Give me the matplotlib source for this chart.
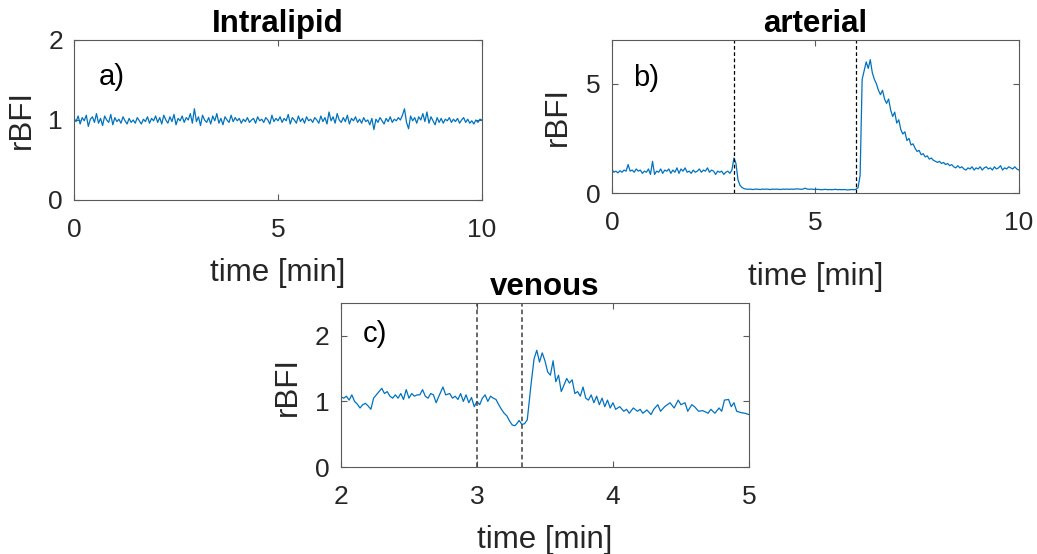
#!/usr/bin/env python3
"""Relative blood flow index (rBFI) traces: Intralipid, arterial and venous runs."""

import matplotlib

matplotlib.use("Agg")
import matplotlib.pyplot as plt
import numpy as np

# --- data ------------------------------------------------------------------

# a) Intralipid phantom, sampled every 0.05 min from 0 to 10 min
intralipid_rbfi = [
    1.02, 0.98, 1.05, 0.95, 1.03, 0.99, 1.06, 0.92, 1.01, 1.04, 0.97, 1.08, 0.96, 1.02, 0.93, 1.05, 1.00, 0.97, 1.07, 0.94,
    1.03, 0.98, 1.01, 0.96, 1.04, 0.99, 0.95, 1.02, 0.97, 1.00, 0.96, 1.03, 0.99, 0.95, 1.01, 0.98, 1.04, 0.96, 1.02, 0.99,
    1.05, 0.97, 1.03, 0.95, 1.06, 1.00, 0.96, 1.04, 0.98, 1.07, 0.94, 1.02, 0.99, 1.05, 0.97, 1.03, 1.00, 1.08, 0.96, 1.14,
    0.98, 1.04, 0.93, 1.06, 1.00, 0.97, 1.03, 0.95, 1.05, 0.99, 1.08, 0.96, 1.02, 0.94, 1.04, 1.00, 0.97, 1.06, 0.98, 1.03,
    0.99, 1.02, 0.96, 1.01, 0.98, 1.03, 0.97, 1.00, 1.02, 0.96, 1.04, 0.99, 1.01, 0.97, 1.03, 1.00, 0.95, 1.06, 0.98, 1.02,
    0.99, 1.04, 0.97, 1.02, 0.99, 1.07, 0.95, 1.03, 1.00, 0.96, 1.05, 0.98, 1.02, 0.96, 1.04, 0.99, 1.01, 0.97, 1.03, 1.00,
    0.96, 1.05, 0.98, 1.03, 0.95, 1.10, 0.99, 1.04, 0.96, 1.08, 1.00, 0.97, 1.03, 0.98, 1.06, 0.95, 1.02, 0.99, 1.04, 0.97,
    1.01, 0.96, 1.03, 0.98, 1.00, 0.94, 1.02, 0.88, 1.01, 0.97, 1.03, 0.99, 0.95, 1.02, 0.98, 1.04, 0.97, 1.01, 0.99, 1.03,
    1.00, 1.06, 1.14, 0.97, 0.89, 1.05, 0.99, 1.03, 0.96, 1.04, 1.00, 1.08, 0.98, 1.10, 0.96, 1.04, 0.99, 0.94, 1.03, 0.97,
    1.02, 0.96, 1.01, 0.99, 1.03, 0.97, 1.01, 0.98, 1.02, 0.96, 1.00, 1.03, 0.97, 1.01, 0.96, 0.99, 0.95, 1.00, 0.97, 1.01,
    1.00,
]

# b) arterial occlusion, sampled every 0.05 min from 0 to 10 min
arterial_rbfi = [
    1.10, 0.95, 1.00, 0.92, 1.02, 0.95, 1.05, 1.00, 1.30, 1.00, 1.05, 0.95, 1.10, 1.00, 1.05, 0.90, 1.00, 0.95, 1.10, 0.85,
    1.45, 0.85, 1.00, 0.95, 1.10, 0.90, 1.05, 1.00, 1.10, 0.90, 1.05, 0.95, 1.15, 0.90, 1.10, 1.00, 1.15, 0.95, 1.00, 0.90,
    1.05, 0.95, 1.00, 1.10, 0.95, 1.05, 1.00, 1.15, 0.95, 1.05, 1.00, 0.85, 1.00, 0.95, 1.00, 0.85, 0.95, 1.00, 0.90, 1.05,
    1.60, 1.35, 0.60, 0.35, 0.25, 0.20, 0.18, 0.17, 0.18, 0.16, 0.17, 0.18, 0.17, 0.16, 0.18, 0.17, 0.18, 0.17, 0.16, 0.18,
    0.17, 0.18, 0.17, 0.16, 0.18, 0.17, 0.18, 0.17, 0.18, 0.17, 0.18, 0.19, 0.18, 0.17, 0.18, 0.22, 0.18, 0.17, 0.18, 0.17,
    0.16, 0.17, 0.16, 0.15, 0.16, 0.17, 0.15, 0.16, 0.15, 0.16, 0.17, 0.15, 0.16, 0.15, 0.16, 0.15, 0.14, 0.15, 0.16, 0.15,
    0.17, 0.25, 0.80, 5.20, 5.60, 6.00, 5.70, 6.10, 5.50, 5.20, 5.00, 4.70, 4.50, 4.70, 4.30, 4.10, 4.30, 3.80, 3.50, 3.70,
    3.20, 3.35, 2.90, 2.70, 2.80, 2.40, 2.50, 2.20, 2.25, 2.05, 1.90, 1.95, 1.75, 1.80, 1.65, 1.70, 1.55, 1.60, 1.50, 1.45,
    1.40, 1.45, 1.35, 1.40, 1.30, 1.35, 1.25, 1.30, 1.20, 1.15, 1.25, 1.15, 1.20, 1.10, 1.05, 1.15, 1.10, 1.20, 1.05, 1.15,
    1.10, 1.20, 1.05, 1.15, 1.20, 1.10, 1.15, 1.05, 1.20, 1.10, 1.15, 1.25, 1.05, 1.15, 1.10, 1.20, 1.15, 1.10, 1.20, 1.10,
    1.05,
]
arterial_events = [3.0, 6.0]

# c) venous occlusion, 2 to 5 min
venous_t = [
    2.00, 2.02, 2.04, 2.06, 2.08, 2.10, 2.12, 2.14, 2.16, 2.18, 2.20, 2.22, 2.24, 2.26, 2.28, 2.30, 2.32, 2.34, 2.36, 2.38,
    2.40, 2.42, 2.44, 2.46, 2.48, 2.50, 2.52, 2.54, 2.56, 2.58, 2.60, 2.62, 2.64, 2.66, 2.68, 2.70, 2.72, 2.75, 2.77, 2.80,
    2.82, 2.84, 2.86, 2.88, 2.90, 2.92, 2.94, 2.96, 2.98, 3.00, 3.02, 3.04, 3.06, 3.08, 3.10, 3.12, 3.14, 3.16, 3.18, 3.20,
    3.22, 3.24, 3.26, 3.28, 3.30, 3.31, 3.33, 3.35, 3.37, 3.40, 3.42, 3.44, 3.46, 3.48, 3.50, 3.52, 3.54, 3.56, 3.58, 3.60,
    3.62, 3.64, 3.66, 3.68, 3.70, 3.72, 3.74, 3.76, 3.78, 3.80, 3.82, 3.84, 3.86, 3.88, 3.90, 3.92, 3.94, 3.96, 3.98, 4.00,
    4.02, 4.05, 4.08, 4.10, 4.12, 4.15, 4.18, 4.20, 4.22, 4.25, 4.28, 4.30, 4.33, 4.35, 4.38, 4.42, 4.45, 4.48, 4.50, 4.53,
    4.55, 4.58, 4.60, 4.63, 4.66, 4.70, 4.72, 4.75, 4.78, 4.80, 4.82, 4.85, 4.87, 4.89, 4.91, 4.94, 4.97, 5.00,
]
venous_rbfi = [
    1.07, 1.05, 1.08, 1.02, 1.10, 1.00, 0.96, 0.90, 0.95, 0.97, 0.93, 0.88, 1.05, 1.10, 1.15, 1.20, 1.12, 1.15, 1.08, 1.05,
    1.10, 1.05, 1.12, 1.03, 1.18, 1.05, 1.12, 1.08, 1.10, 1.10, 1.18, 1.08, 1.05, 1.12, 1.10, 0.98, 1.08, 1.22, 1.10, 1.12,
    1.05, 1.08, 1.03, 1.12, 1.00, 1.10, 0.98, 1.06, 0.92, 1.00, 0.95, 1.05, 1.10, 1.00, 1.08, 1.05, 1.03, 0.95, 0.88, 0.82,
    0.78, 0.70, 0.64, 0.63, 0.68, 0.71, 0.65, 0.66, 0.72, 1.30, 1.65, 1.78, 1.60, 1.74, 1.62, 1.45, 1.40, 1.62, 1.30, 1.40,
    1.15, 1.25, 1.35, 1.28, 1.33, 1.12, 1.15, 1.08, 1.22, 1.05, 1.02, 1.10, 0.98, 1.08, 0.95, 1.05, 0.92, 1.02, 0.90, 0.98,
    0.88, 0.92, 0.85, 0.88, 0.82, 0.90, 0.85, 0.88, 0.82, 0.87, 0.80, 0.88, 0.95, 0.85, 0.92, 0.98, 0.90, 1.02, 0.95, 0.98,
    0.85, 0.95, 0.92, 0.85, 0.86, 0.82, 0.88, 0.82, 0.90, 0.85, 1.02, 1.03, 0.92, 0.98, 0.85, 0.83, 0.82, 0.80,
]
venous_events = [3.0, 3.333]

LINE = "#0072BD"
AXIS = "#5a5a5a"
TEXT = "#262626"
LABEL_SIZE = 22.5


def configure_style() -> None:
    plt.rcParams.update(
        {
            "font.family": ["Liberation Sans", "DejaVu Sans"],
            "font.size": 19,
            "axes.linewidth": 0.8,
            "axes.edgecolor": AXIS,
            "xtick.direction": "in",
            "ytick.direction": "in",
            "xtick.top": True,
            "ytick.right": True,
            "xtick.color": AXIS,
            "ytick.color": AXIS,
            "xtick.labelcolor": TEXT,
            "ytick.labelcolor": TEXT,
            "xtick.major.size": 4,
            "ytick.major.size": 4,
            "xtick.major.width": 0.8,
            "ytick.major.width": 0.8,
            "xtick.major.pad": 13,
            "ytick.major.pad": 8,
        }
    )


def style_panel(ax, title, letter, letter_xy, xlabel_y, ylabel_x, ylabel_y=0.5):
    ax.set_title(title, fontsize=LABEL_SIZE, fontweight="bold", pad=6)
    ax.set_xlabel("time [min]", fontsize=LABEL_SIZE, color=TEXT)
    ax.set_ylabel("rBFI", fontsize=LABEL_SIZE, color=TEXT)
    ax.xaxis.set_label_coords(0.5, xlabel_y)
    ax.yaxis.set_label_coords(ylabel_x, ylabel_y)
    ax.text(letter_xy[0], letter_xy[1], letter, transform=ax.transAxes,
            fontsize=21, ha="left", va="center", color="black")


def main() -> None:
    configure_style()
    fig = plt.figure(figsize=(10.37, 5.54), dpi=100)

    # a) Intralipid
    ax_a = fig.add_axes([0.0714, 0.639, 0.3934, 0.2888])
    t_a = np.linspace(0, 10, len(intralipid_rbfi))
    ax_a.plot(t_a, intralipid_rbfi, color=LINE, linewidth=0.9)
    ax_a.set_xlim(0, 10)
    ax_a.set_ylim(0, 2)
    ax_a.set_xticks([0, 5, 10])
    ax_a.set_yticks([0, 1, 2])
    style_panel(ax_a, "Intralipid", "a)", (0.06, 0.77), -0.36, -0.09)

    # b) arterial
    ax_b = fig.add_axes([0.590, 0.6516, 0.3925, 0.2762])
    t_b = np.linspace(0, 10, len(arterial_rbfi))
    ax_b.plot(t_b, arterial_rbfi, color=LINE, linewidth=0.9)
    for ev in arterial_events:
        ax_b.axvline(ev, color="black", linestyle=(0, (3, 2)), linewidth=0.9)
    ax_b.set_xlim(0, 10)
    ax_b.set_ylim(0, 7)
    ax_b.set_xticks([0, 5, 10])
    ax_b.set_yticks([0, 5])
    style_panel(ax_b, "arterial", "b)", (0.052, 0.75), -0.45, -0.096)

    # c) venous
    ax_c = fig.add_axes([0.3288, 0.157, 0.3934, 0.296])
    ax_c.plot(venous_t, venous_rbfi, color=LINE, linewidth=0.9)
    for ev in venous_events:
        ax_c.axvline(ev, color="#404040", linestyle=(0, (3, 2)), linewidth=1.1)
    ax_c.set_xlim(2, 5)
    ax_c.set_ylim(0, 2.5)
    ax_c.set_xticks([2, 3, 4, 5])
    ax_c.set_yticks([0, 1, 2])
    style_panel(ax_c, "venous", "c)", (0.054, 0.81), -0.354, -0.093, 0.49)

    fig.savefig("out.png", dpi=100)
    plt.close(fig)


if __name__ == "__main__":
    main()
